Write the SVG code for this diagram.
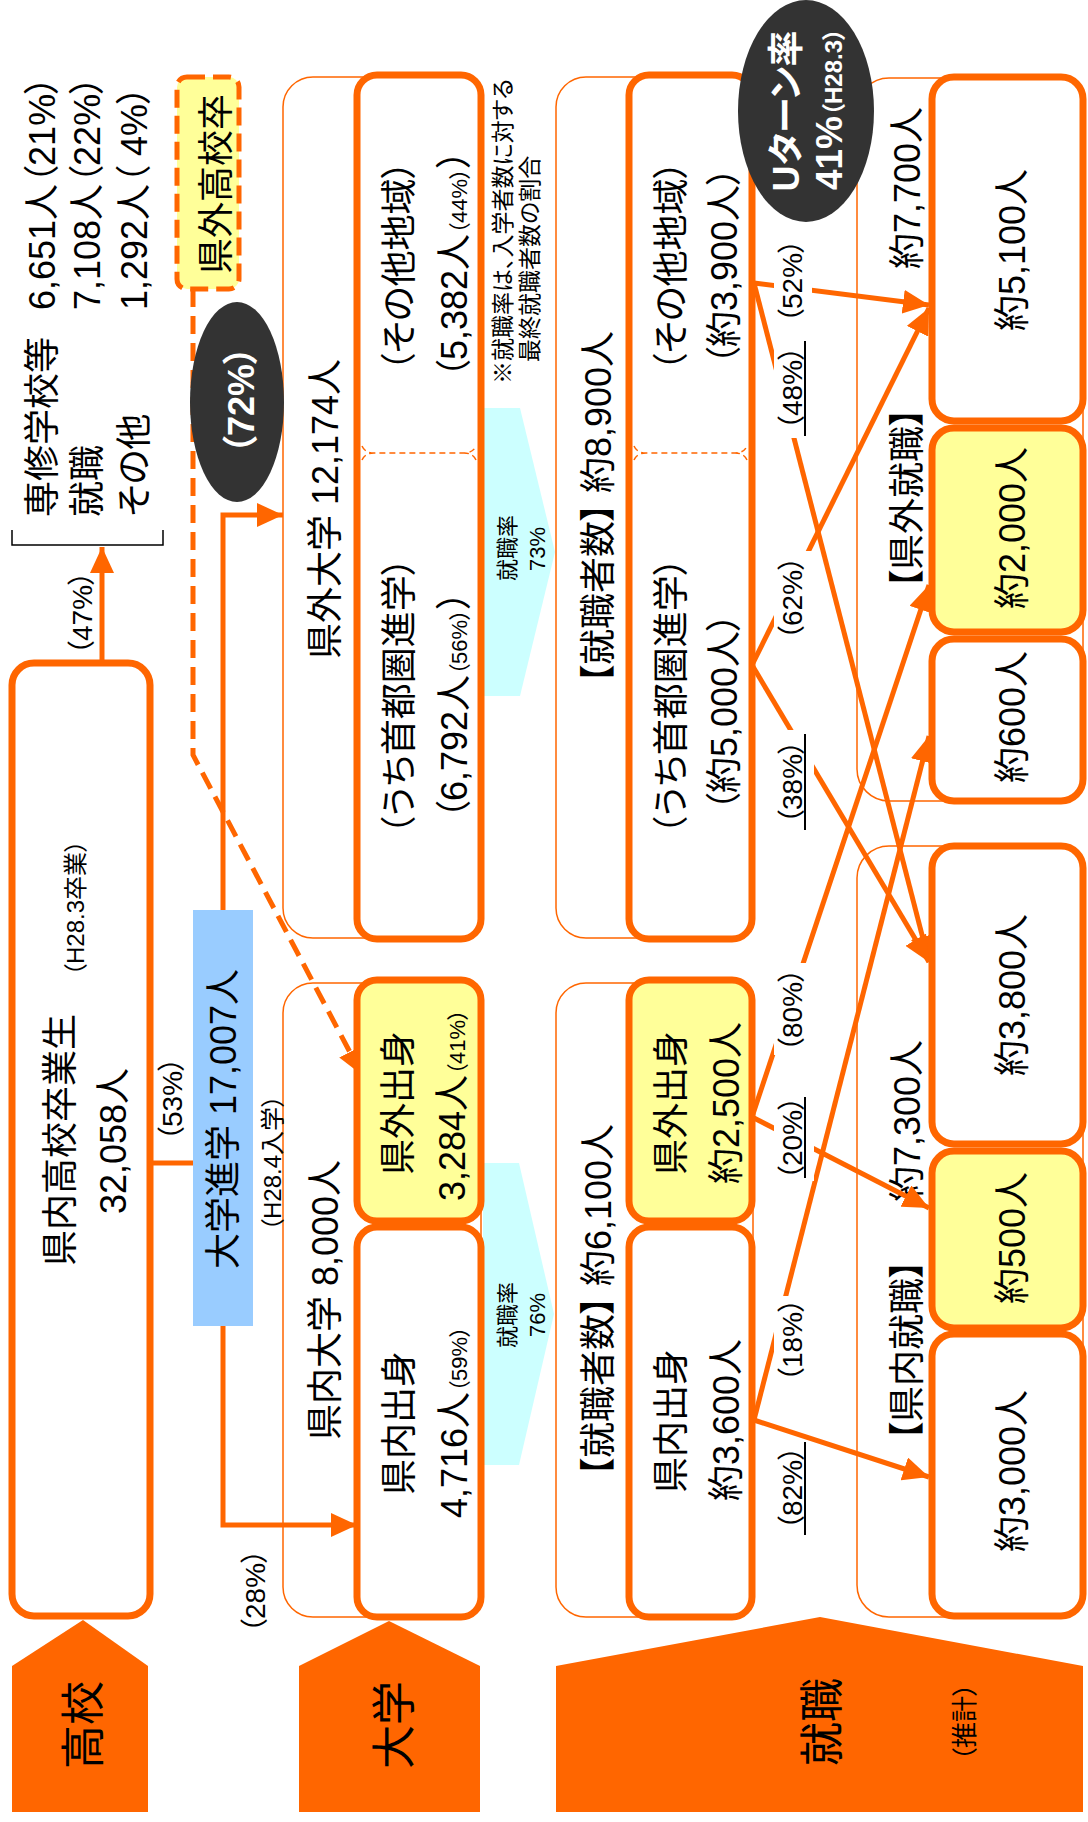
<svg xmlns="http://www.w3.org/2000/svg" width="1088" height="1822" viewBox="0 0 1088 1822">
<style>
text{font-family:"Liberation Sans","Noto Sans CJK JP",sans-serif;fill:#000;text-anchor:middle;font-feature-settings:"palt";}
.f36{font-size:36px}.f28{font-size:28px}.f24{font-size:24px}.f22{font-size:22px}.f23{font-size:23px}.f44{font-size:44px}.f26{font-size:26px}
.st{text-anchor:start}
.w{fill:#fff;font-weight:bold}
.nb{fill:#fff;stroke:#FF6600;stroke-width:7}
.yb{fill:#FFFF99;stroke:#FF6600;stroke-width:7}
.ob{fill:none;stroke:#FF6600;stroke-width:1.5}
.ln{fill:none;stroke:#FF6600;stroke-width:5}
.lb{fill:#fff}
.ul{stroke:#000;stroke-width:2}
.stage{fill:#FF6600}
.cy{fill:#CCFFFF}
.dv{fill:none;stroke:#FF6600;stroke-width:1.5;stroke-dasharray:6 4}
</style>
<defs>
<marker id="ah" markerUnits="userSpaceOnUse" markerWidth="26" markerHeight="24" refX="26" refY="12" orient="auto"><path d="M0,0 L26,12 L0,24 z" fill="#FF6600"/></marker>
</defs>

<!-- stage labels -->
<g id="stage-koukou"><polygon class="stage" points="12,1666 83,1620 148,1666 148,1812 12,1812"/><text class="f44" transform="translate(83 1725) rotate(-90)" dy=".36em">高校</text></g>
<g id="stage-daigaku"><polygon class="stage" points="299,1666 389,1621 480,1666 480,1812 299,1812"/><text class="f44" transform="translate(394 1725) rotate(-90)" dy=".36em">大学</text></g>
<g id="stage-shushoku"><polygon class="stage" points="556,1666 820,1617 1083,1666 1083,1812 556,1812"/><text class="f44" transform="translate(822 1722) rotate(-90)" dy=".36em">就職</text><text class="f26" transform="translate(965 1722) rotate(-90)" dy=".36em">（推計）</text></g>

<!-- cyan rate arrows -->
<g id="rate-73"><polygon class="cy" points="483,408 520,408 555,552 520,696 483,696"/><text class="f22" transform="translate(507 548) rotate(-90)" dy=".36em">就職率</text><text class="f22" transform="translate(537 549) rotate(-90)" dy=".36em">73%</text></g>
<g id="rate-76"><polygon class="cy" points="483,1163 519,1163 554,1314 519,1465 483,1465"/><text class="f22" transform="translate(507 1315) rotate(-90)" dy=".36em">就職率</text><text class="f22" transform="translate(537 1315) rotate(-90)" dy=".36em">76%</text></g>

<!-- outer thin group boxes -->
<g id="grp-kengai-daigaku"><rect class="ob" x="283" y="77" width="198" height="861" rx="30"/><text class="f36" transform="translate(325 509) rotate(-90)" dy=".36em">県外大学 12,174人</text></g>
<g id="grp-kennai-daigaku"><rect class="ob" x="283" y="983" width="198" height="634" rx="30"/><text class="f36" transform="translate(325 1300) rotate(-90)" dy=".36em">県内大学 8,000人</text></g>
<g id="grp-shushoku-kengai"><rect class="ob" x="556" y="77" width="197" height="861" rx="30"/><text class="f36" transform="translate(598 507) rotate(-90)" dy=".36em">【就職者数】 約8,900人</text></g>
<g id="grp-shushoku-kennai"><rect class="ob" x="556" y="983" width="197" height="634" rx="30"/><text class="f36" transform="translate(598 1300) rotate(-90)" dy=".36em">【就職者数】 約6,100人</text></g>
<g id="grp-kengai-shushoku"><rect class="ob" x="857" y="78" width="226" height="723" rx="32"/><text class="f36" transform="translate(907 188) rotate(-90)" dy=".36em">約7,700人</text><text class="f36" transform="translate(907 498) rotate(-90)" dy=".36em">【県外就職】</text></g>
<g id="grp-kennai-shushoku"><rect class="ob" x="857" y="846" width="226" height="771" rx="32"/><text class="f36" transform="translate(907 1121) rotate(-90)" dy=".36em">約7,300人</text><text class="f36" transform="translate(907 1350) rotate(-90)" dy=".36em">【県内就職】</text></g>

<!-- connectors -->
<g id="connectors">
<path class="ln" d="M102,663 L102,547" marker-end="url(#ah)"/>
<path class="ln" d="M150,1163 L196,1163"/>
<path class="ln" d="M223,912 L223,515 L283,515" marker-end="url(#ah)"/>
<path class="ln" d="M223,1324 L223,1525 L357,1525" marker-end="url(#ah)"/>
<path class="ln" d="M193,289 L193,755 L362,1075" stroke-dasharray="18 9" marker-end="url(#ah)"/>
<path class="ln" d="M754,283 L929,305" marker-end="url(#ah)"/>
<path class="ln" d="M754,283 L929,962" marker-end="url(#ah)"/>
<path class="ln" d="M752,665 L929,308" marker-end="url(#ah)"/>
<path class="ln" d="M752,665 L929,962" marker-end="url(#ah)"/>
<path class="ln" d="M752,1117 L929,585" marker-end="url(#ah)"/>
<path class="ln" d="M752,1117 L929,1208" marker-end="url(#ah)"/>
<path class="ln" d="M754,1420 L929,736" marker-end="url(#ah)"/>
<path class="ln" d="M754,1420 L929,1477" marker-end="url(#ah)"/>
<rect class="lb" x="774" y="239" width="38" height="84"/>
<rect class="lb" x="774" y="339" width="40" height="99"/>
<rect class="lb" x="774" y="551" width="38" height="94"/>
<rect class="lb" x="774" y="730" width="40" height="102"/>
<rect class="lb" x="774" y="963" width="38" height="92"/>
<rect class="lb" x="774" y="1095" width="40" height="86"/>
<rect class="lb" x="774" y="1296" width="38" height="89"/>
<rect class="lb" x="776" y="1444" width="38" height="92"/>
<text class="f28" transform="translate(82 613) rotate(-90)" dy=".36em">（47%）</text>
<text class="f28" transform="translate(172 1099) rotate(-90)" dy=".36em">（53%）</text>
<text class="f28" transform="translate(255 1591) rotate(-90)" dy=".36em">（28%）</text>
<text class="f28" transform="translate(792 281) rotate(-90)" dy=".36em">（52%）</text>
<text class="f28" transform="translate(792 388) rotate(-90)" dy=".36em">（48%）</text>
<text class="f28" transform="translate(792 598) rotate(-90)" dy=".36em">（62%）</text>
<text class="f28" transform="translate(792 782) rotate(-90)" dy=".36em">（38%）</text>
<text class="f28" transform="translate(792 1010) rotate(-90)" dy=".36em">（80%）</text>
<text class="f28" transform="translate(792 1138) rotate(-90)" dy=".36em">（20%）</text>
<text class="f28" transform="translate(792 1340) rotate(-90)" dy=".36em">（18%）</text>
<text class="f28" transform="translate(792 1488) rotate(-90)" dy=".36em">（82%）</text>
<line class="ul" x1="805" y1="341" x2="805" y2="436"/>
<line class="ul" x1="805" y1="734" x2="805" y2="830"/>
<line class="ul" x1="805" y1="1097" x2="805" y2="1178"/>
<line class="ul" x1="805" y1="1442" x2="805" y2="1535"/>
</g>

<!-- high school -->
<g id="koukou-sotsugyo"><rect class="nb" x="12" y="663" width="138" height="953" rx="22"/>
<text class="f36" transform="translate(60 1140) rotate(-90)" dy=".36em">県内高校卒業生</text>
<text class="f24" transform="translate(75 908) rotate(-90)" dy=".36em">（H28.3卒業）</text>
<text class="f36" transform="translate(113 1141) rotate(-90)" dy=".36em">32,058人</text></g>

<g id="sonota-shinro"><path d="M12,530 L12,545 L163,545 L163,530" fill="none" stroke="#000" stroke-width="1.5"/>
<text class="f36 st" transform="translate(42 517) rotate(-90)" dy=".36em">専修学校等</text>
<text class="f36 st" transform="translate(87 517) rotate(-90)" dy=".36em">就職</text>
<text class="f36 st" transform="translate(134 517) rotate(-90)" dy=".36em">その他</text>
<text class="f36 st" transform="translate(42 310) rotate(-90)" dy=".36em">6,651人（21%）</text>
<text class="f36 st" transform="translate(87 310) rotate(-90)" dy=".36em">7,108人（22%）</text>
<text class="f36 st" transform="translate(134 310) rotate(-90)" dy=".36em">1,292人（ 4%）</text></g>

<g id="kengai-koukou"><rect x="177" y="77" width="62" height="212" rx="10" fill="#FFFF99" stroke="#FF6600" stroke-width="5" stroke-dasharray="18 8"/>
<text class="f36" transform="translate(216 184) rotate(-90)" dy=".36em">県外高校卒</text></g>

<g id="badge-72"><ellipse cx="237" cy="402" rx="47" ry="100" fill="#333333"/><text class="f36 w" transform="translate(241 400) rotate(-90)" dy=".36em">（72%）</text></g>

<g id="daigaku-shingaku"><rect x="193" y="910" width="60" height="416" fill="#99CCFF"/>
<text class="f36" transform="translate(223 1119) rotate(-90)" dy=".36em">大学進学 17,007人</text>
<text class="f24" transform="translate(272 1163) rotate(-90)" dy=".36em">（H28.4入学）</text></g>

<g id="kengai-daigaku-inner"><rect class="nb" x="357" y="75" width="124" height="864" rx="20"/>
<path class="dv" d="M362,446 Q365,453 374,453 L464,453 Q473,453 476,446 M362,460 Q365,453 374,453 M476,460 Q473,453 464,453"/>
<text class="f36" transform="translate(399 266) rotate(-90)" dy=".36em">（その他地域）</text>
<text class="f36" transform="translate(454 264) rotate(-90)" dy=".36em">（5,382人<tspan class="f22">（44%）</tspan>）</text>
<text class="f36" transform="translate(399 696) rotate(-90)" dy=".36em">（うち首都圏進学）</text>
<text class="f36" transform="translate(454 705) rotate(-90)" dy=".36em">（6,792人<tspan class="f22">（56%）</tspan>）</text></g>

<g id="daigaku-kengai-shusshin"><rect class="yb" x="357" y="980" width="124" height="241" rx="20"/>
<text class="f36" transform="translate(398 1103) rotate(-90)" dy=".36em">県外出身</text>
<text class="f36" transform="translate(452 1105) rotate(-90)" dy=".36em">3,284人<tspan class="f22">（41%）</tspan></text></g>
<g id="daigaku-kennai-shusshin"><rect class="nb" x="357" y="1227" width="124" height="390" rx="20"/>
<text class="f36" transform="translate(399 1423) rotate(-90)" dy=".36em">県内出身</text>
<text class="f36" transform="translate(454 1422) rotate(-90)" dy=".36em">4,716人<tspan class="f22">（59%）</tspan></text></g>

<g id="note"><text class="f23 st" transform="translate(503 384) rotate(-90)" dy=".36em">※就職率は、入学者数に対する</text>
<text class="f23 st" transform="translate(530 362) rotate(-90)" dy=".36em">最終就職者数の割合</text></g>

<g id="shushoku-kengai-inner"><rect class="nb" x="629" y="75" width="123" height="864" rx="20"/>
<path class="dv" d="M634,446 Q637,453 646,453 L735,453 Q744,453 747,446 M634,460 Q637,453 646,453 M747,460 Q744,453 735,453"/>
<text class="f36" transform="translate(671 266) rotate(-90)" dy=".36em">（その他地域）</text>
<text class="f36" transform="translate(724 266) rotate(-90)" dy=".36em">（約3,900人）</text>
<text class="f36" transform="translate(671 696) rotate(-90)" dy=".36em">（うち首都圏進学）</text>
<text class="f36" transform="translate(724 712) rotate(-90)" dy=".36em">（約5,000人）</text></g>

<g id="shushoku-kengai-shusshin"><rect class="yb" x="629" y="980" width="123" height="241" rx="20"/>
<text class="f36" transform="translate(671 1103) rotate(-90)" dy=".36em">県外出身</text>
<text class="f36" transform="translate(726 1103) rotate(-90)" dy=".36em">約2,500人</text></g>
<g id="shushoku-kennai-shusshin"><rect class="nb" x="629" y="1227" width="123" height="390" rx="20"/>
<text class="f36" transform="translate(671 1421) rotate(-90)" dy=".36em">県内出身</text>
<text class="f36" transform="translate(726 1420) rotate(-90)" dy=".36em">約3,600人</text></g>

<g id="badge-uturn"><ellipse cx="806" cy="111" rx="68" ry="111" fill="#333333"/>
<text class="f36 w" transform="translate(786 111) rotate(-90)" dy=".36em">Uターン率</text>
<text class="f36 w" transform="translate(829 109) rotate(-90)" dy=".36em" style="font-size:37px">41%<tspan style="font-size:24px">（H28.3）</tspan></text></g>

<g id="kengai-5100"><rect class="nb" x="932" y="77" width="151" height="344" rx="22"/><text class="f36" transform="translate(1012 250) rotate(-90)" dy=".36em">約5,100人</text></g>
<g id="kengai-2000"><rect class="yb" x="932" y="428" width="151" height="204" rx="22"/><text class="f36" transform="translate(1012 528) rotate(-90)" dy=".36em">約2,000人</text></g>
<g id="kengai-600"><rect class="nb" x="932" y="639" width="151" height="162" rx="22"/><text class="f36" transform="translate(1012 717) rotate(-90)" dy=".36em">約600人</text></g>
<g id="kennai-3800"><rect class="nb" x="932" y="846" width="151" height="298" rx="22"/><text class="f36" transform="translate(1012 995) rotate(-90)" dy=".36em">約3,800人</text></g>
<g id="kennai-500"><rect class="yb" x="932" y="1151" width="151" height="177" rx="22"/><text class="f36" transform="translate(1012 1238) rotate(-90)" dy=".36em">約500人</text></g>
<g id="kennai-3000"><rect class="nb" x="932" y="1334" width="151" height="282" rx="22"/><text class="f36" transform="translate(1012 1471) rotate(-90)" dy=".36em">約3,000人</text></g>
</svg>
